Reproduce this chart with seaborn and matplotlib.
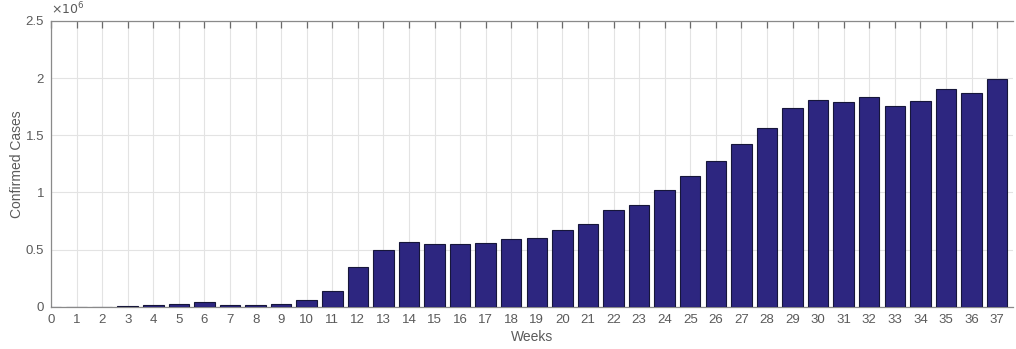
import matplotlib
matplotlib.use("Agg")
import matplotlib.pyplot as plt
import seaborn as sns
import pandas as pd
import numpy as np

# Weekly confirmed cases
weeks = list(range(38))
cases = [0, 0, 0, 3000, 12000, 24000, 38000, 15000, 15000, 26000,
         58000, 140000, 346000, 500000, 566000, 547000, 553000, 562000,
         597000, 602000, 672000, 728000, 844000, 890000, 1018000, 1140000,
         1274000, 1426000, 1562000, 1737000, 1807000, 1792000, 1839000,
         1757000, 1801000, 1906000, 1873000, 1995000]

sns.set_theme(style="white")
plt.rcParams['font.family'] = ['Liberation Sans', 'DejaVu Sans']

df = pd.DataFrame({"week": weeks, "cases": cases})

fig = plt.figure(figsize=(10.16, 3.49), dpi=100)
ax = fig.add_axes([0.0502, 0.121, 0.9468, 0.819])

sns.barplot(data=df, x="week", y="cases", ax=ax, color="#2d2680",
            saturation=1, width=0.8, edgecolor="#16163a", linewidth=0.8,
            native_scale=True, zorder=3)

ax.set_xlim(0, 37.62)
ax.set_ylim(0, 2.5e6)
ax.set_xticks(weeks)
ax.set_xticklabels([str(w) for w in weeks])
yt = [0, 0.5e6, 1e6, 1.5e6, 2e6, 2.5e6]
ax.set_yticks(yt)
ax.set_yticklabels(["0", "0.5", "1", "1.5", "2", "2.5"])

gray = "#5a5a5a"
ax.grid(True, color="#e3e3e3", linewidth=0.8, zorder=0)
ax.set_axisbelow(True)
for s in ["left", "bottom", "top"]:
    ax.spines[s].set_color("#8a8a8a")
    ax.spines[s].set_linewidth(0.9)
ax.spines["right"].set_visible(False)

ax.tick_params(axis="both", direction="in", length=5, width=0.9,
               color="#6a6a6a", labelcolor=gray, labelsize=9.5, pad=5)
ax.tick_params(axis="x", top=True)

ax.set_xlabel("Weeks", color=gray, fontsize=10, labelpad=3)
ax.set_ylabel("Confirmed Cases", color=gray, fontsize=10, labelpad=1)
ax.text(0.0, 1.012, r"$\times10^{6}$", transform=ax.transAxes,
        color=gray, fontsize=9, ha="left", va="bottom")

fig.savefig("out.png", dpi=100)
